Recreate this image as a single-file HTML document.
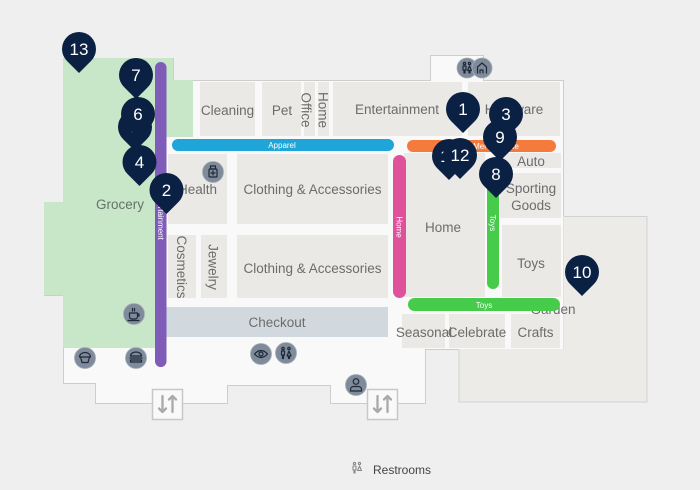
<!DOCTYPE html>
<html><head><meta charset="utf-8">
<style>
html,body{margin:0;padding:0;background:#efefef;width:700px;height:490px;overflow:hidden;}
svg{display:block;font-family:"Liberation Sans",Arial,sans-serif;}
.lb{font-size:13.5px;fill:#6c6c6c;text-anchor:middle;}
.bt{font-size:8px;fill:#ffffff;text-anchor:middle;}
.pn{font-size:17px;fill:#ffffff;text-anchor:middle;}
.ic{fill:#7f8b9a;stroke:#a3adb8;stroke-width:0.8;}
.is{fill:none;stroke:#1d2838;stroke-width:1.2;stroke-linecap:round;stroke-linejoin:round;}
</style></head><body>
<svg width="700" height="490" viewBox="0 0 700 490" xmlns="http://www.w3.org/2000/svg">
<rect width="700" height="490" fill="#efefef"/>

<!-- garden building -->
<rect x="459" y="216.5" width="188" height="185.5" fill="#edebe8" stroke="#d2d2d2" stroke-width="1"/>

<!-- main floor -->
<path d="M63,58H173V80H430V55H483V80H563V349H425V403H330V385H227V403H95V383H63V295H44V202H63Z" fill="#f9f9f9"/>
<path d="M459,349.5H425.5V403.5H330.5V385.5H227.5V403.5H95.5V383.5H63.5V295.5H44.5V202.5H63.5V58.5H173.5V80.5H430.5V55.5H483.5V80.5H563.5V216" fill="none" stroke="#cdcdcd" stroke-width="1"/>
<line x1="563.5" y1="216" x2="563.5" y2="349" stroke="#e2e2e2" stroke-width="1"/>

<!-- grocery green -->
<path d="M63,58H173V80H193V137H166V348H63V295H44V202H63Z" fill="#c8e6c8"/>

<!-- stores -->
<g fill="#ebe9e6">
<rect x="200" y="82" width="55" height="54"/>
<rect x="262" y="82" width="39" height="54"/>
<rect x="304" y="82" width="11" height="54"/>
<rect x="318" y="82" width="11" height="54"/>
<rect x="333" y="82" width="129" height="54"/>
<rect x="468" y="82" width="92" height="54"/>
<rect x="168" y="154" width="59" height="70"/>
<rect x="237" y="154" width="151" height="70"/>
<rect x="168" y="235" width="28" height="63"/>
<rect x="201" y="235" width="26" height="63"/>
<rect x="237" y="235" width="151" height="63"/>
<rect x="404" y="153" width="81" height="144"/>
<rect x="500" y="153" width="61" height="15"/>
<rect x="500" y="173" width="61" height="45"/>
<rect x="502" y="225" width="59" height="72"/>
<rect x="402" y="314" width="43" height="34"/>
<rect x="449" y="314" width="56" height="34"/>
<rect x="511" y="314" width="49" height="34"/>
</g>
<rect x="166" y="307" width="222" height="30" fill="#d1d9de"/>

<!-- labels -->
<text class="lb" x="227.5" y="115">Cleaning</text>
<text class="lb" x="282" y="115">Pet</text>
<text class="lb" transform="translate(306,110) rotate(90)" x="0" y="4.7">Office</text>
<text class="lb" transform="translate(323,110) rotate(90)" x="0" y="4.7">Home</text>
<text class="lb" x="397" y="114">Entertainment</text>
<text class="lb" x="514" y="114">Hardware</text>
<text class="lb" x="197.5" y="194">Health</text>
<text class="lb" x="312.5" y="194">Clothing &amp; Accessories</text>
<text class="lb" x="312.5" y="273">Clothing &amp; Accessories</text>
<text class="lb" transform="translate(181.5,267) rotate(90)" x="0" y="4.7">Cosmetics</text>
<text class="lb" transform="translate(213,267) rotate(90)" x="0" y="4.7">Jewelry</text>
<text class="lb" x="277" y="327">Checkout</text>
<text class="lb" x="443" y="232">Home</text>
<text class="lb" x="531" y="166">Auto</text>
<text class="lb" x="531" y="193">Sporting</text>
<text class="lb" x="531" y="210">Goods</text>
<text class="lb" x="531" y="268">Toys</text>
<text class="lb" x="553" y="314">Garden</text>
<text class="lb" x="424" y="337">Seasonal</text>
<text class="lb" x="477" y="337">Celebrate</text>
<text class="lb" x="535.5" y="337">Crafts</text>
<text class="lb" x="120" y="209" style="fill:#66726a">Grocery</text>

<!-- aisle bars -->
<rect x="155" y="62" width="11.5" height="305" rx="5.75" fill="#7e5cb8"/>
<text class="bt" transform="translate(161,215) rotate(90)" x="0" y="2.8">Entertainment</text>
<rect x="172" y="139" width="222" height="12" rx="6" fill="#1fa5d7"/>
<text class="bt" x="282" y="147.8">Apparel</text>
<rect x="407" y="140" width="149" height="12" rx="6" fill="#f47b3c"/>
<text class="bt" x="496" y="148.8">Merchandise</text>
<rect x="393" y="155" width="13" height="143" rx="6.5" fill="#e0519b"/>
<text class="bt" transform="translate(399.5,227) rotate(90)" x="0" y="2.8">Home</text>
<rect x="487" y="165" width="12" height="124" rx="6" fill="#46cb4b"/>
<text class="bt" transform="translate(493,223) rotate(90)" x="0" y="2.8">Toys</text>
<rect x="408" y="298" width="152" height="13" rx="6.5" fill="#46cb4b"/>
<text class="bt" x="484" y="307.8">Toys</text>

<!-- icons -->
<!-- health -->
<circle class="ic" cx="213" cy="172" r="10.5"/>
<g class="is"><rect x="209" y="169" width="8" height="8" rx="1"/><rect x="210.5" y="166" width="5" height="3"/><path d="M213,171v4M211,173h4"/></g>
<!-- coffee -->
<circle class="ic" cx="134" cy="314" r="10.5"/>
<g class="is"><path d="M129.5,313h8v3.5a2.5,2.5 0 0 1 -2.5,2.5h-3a2.5,2.5 0 0 1 -2.5,-2.5z"/><path d="M137.5,314h1.5v2h-1.5"/><path d="M128,320.5h11"/><path d="M132.5,308.5v2.5M134.5,308.5v2.5"/></g>
<!-- cupcake -->
<circle class="ic" cx="85" cy="358" r="10.5"/>
<g class="is"><path d="M79.5,357a5.5,4.5 0 0 1 11,0z"/><path d="M80.5,357l1.5,5.5h6l1.5,-5.5"/></g>
<!-- burger -->
<circle class="ic" cx="136" cy="358" r="10.5"/>
<g class="is"><path d="M130.5,356a5.5,4 0 0 1 11,0z"/><path d="M130,358h12M130.5,360h11v2h-11z"/></g>
<!-- eye -->
<circle class="ic" cx="261" cy="354" r="10.5"/>
<g class="is"><path d="M254.5,354q6.5,-7 13,0q-6.5,7 -13,0z"/><circle cx="261" cy="354" r="2"/></g>
<!-- restroom -->
<circle class="ic" cx="286" cy="353" r="10.5"/>
<g class="is"><circle cx="283" cy="348.5" r="1.2"/><circle cx="289" cy="348.5" r="1.2"/><path d="M281.5,351h3v4h-1v3.5h-1v-3.5h-1z"/><path d="M289,351l2,5h-4z M288.5,356v2.5M289.5,356v2.5"/></g>
<!-- person -->
<circle class="ic" cx="356" cy="385" r="10.5"/>
<g class="is"><circle cx="356" cy="381.5" r="2.8"/><path d="M350.5,391v-1.5a3,3 0 0 1 3,-3h5a3,3 0 0 1 3,3v1.5z"/></g>
<!-- top restroom + stroller -->
<circle class="ic" cx="467" cy="68" r="10"/>
<g class="is"><circle cx="464.5" cy="63.5" r="1.1"/><circle cx="469.5" cy="63.5" r="1.1"/><path d="M463,66h3v4h-1v3h-1v-3h-1z"/><path d="M469.5,66l2,4.5h-4z M469,70.5v2.5M470,70.5v2.5"/></g>
<circle class="ic" cx="482" cy="68" r="10"/>
<g class="is"><path d="M477.5,73v-6l4.5,-4l4.5,4v6M480,73v-3h3v3"/></g>

<!-- elevators -->
<g>
<rect x="152.5" y="389.5" width="30" height="30" fill="#f9f9f9" stroke="#c8c8c8" stroke-width="1.5"/>
<g stroke="#a9a9a9" stroke-width="2.3" fill="none" stroke-linecap="round" stroke-linejoin="round">
<path d="M162.5,396v16M159,408.5l3.5,3.5l3.5,-3.5"/>
<path d="M172.5,412v-16M169,399.5l3.5,-3.5l3.5,3.5"/>
</g>
<rect x="367.5" y="389.5" width="30" height="30" fill="#f9f9f9" stroke="#c8c8c8" stroke-width="1.5"/>
<g stroke="#a9a9a9" stroke-width="2.3" fill="none" stroke-linecap="round" stroke-linejoin="round">
<path d="M377.5,396v16M374,408.5l3.5,3.5l3.5,-3.5"/>
<path d="M387.5,412v-16M384,399.5l3.5,-3.5l3.5,3.5"/>
</g>
</g>

<!-- pins -->
<g fill="#0b2143">
<path d="M79,73L67,61A17,17 0 1 1 91,61Z"/>
<text class="pn" x="79" y="55">13</text>
<path d="M136,99L124,87A17,17 0 1 1 148,87Z"/>
<text class="pn" x="136" y="81">7</text>
<path d="M135,151L123,139A17,17 0 1 1 147,139Z"/>
<text class="pn" x="135" y="133">5</text>
<path d="M138,138L126,126A17,17 0 1 1 150,126Z"/>
<text class="pn" x="138" y="120">6</text>
<path d="M139.5,186L127.5,174A17,17 0 1 1 151.5,174Z"/>
<text class="pn" x="139.5" y="168">4</text>
<path d="M166.5,214L154.5,202A17,17 0 1 1 178.5,202Z"/>
<text class="pn" x="166.5" y="196">2</text>
<path d="M463,133L451,121A17,17 0 1 1 475,121Z"/>
<text class="pn" x="463" y="115">1</text>
<path d="M506,138L494,126A17,17 0 1 1 518,126Z"/>
<text class="pn" x="506" y="120">3</text>
<path d="M500,161L488,149A17,17 0 1 1 512,149Z"/>
<text class="pn" x="500" y="143">9</text>
<path d="M449,180L437,168A17,17 0 1 1 461,168Z"/>
<text class="pn" x="449" y="162">11</text>
<path d="M460,179L448,167A17,17 0 1 1 472,167Z"/>
<text class="pn" x="460" y="161">12</text>
<path d="M496,198L484,186A17,17 0 1 1 508,186Z"/>
<text class="pn" x="496" y="180">8</text>
<path d="M582,296L570,284A17,17 0 1 1 594,284Z"/>
<text class="pn" x="582" y="278">10</text>
</g>

<!-- legend -->
<g fill="none" stroke="#8a8a8a" stroke-width="1.1" stroke-linecap="round" stroke-linejoin="round">
<circle cx="354.5" cy="463.5" r="1.1"/><circle cx="359.5" cy="463.5" r="1.1"/>
<path d="M353,466h3v4h-1v3h-1v-3h-1z"/>
<path d="M359.5,466l2,4.5h-4z"/>
</g>
<text x="373" y="474" style="font-size:12px;fill:#444">Restrooms</text>
</svg>
</body></html>
